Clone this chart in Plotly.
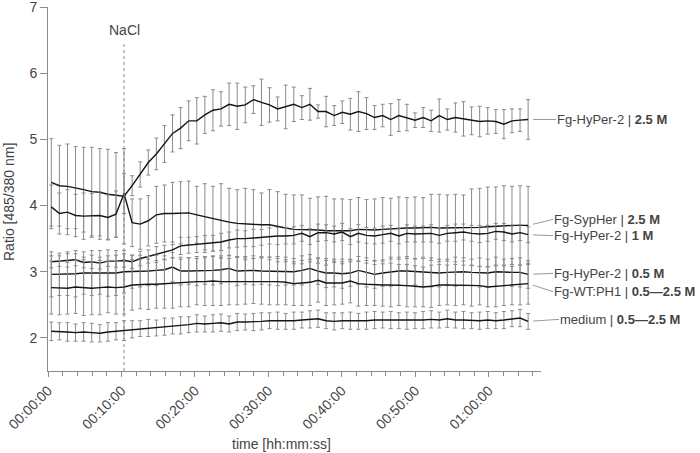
import plotly.graph_objects as go

# sampling grid (minutes), one point per ~66 s
t_min = [round(0.45 + 1.1 * i, 2) for i in range(60)]
nacl_min = 10.35

tick_vals = [0, 10, 20, 30, 40, 50, 60]
tick_text = ["00:00:00", "00:10:00", "00:20:00", "00:30:00", "00:40:00", "00:50:00", "01:00:00"]

# Fg-HyPer-2 | 2.5 M
hyper25 = [4.35, 4.30, 4.29, 4.27, 4.24, 4.21, 4.20, 4.17, 4.16, 4.14,
           4.30, 4.47, 4.65, 4.78, 4.93, 5.09, 5.17, 5.28, 5.28, 5.37,
           5.44, 5.46, 5.53, 5.50, 5.52, 5.60, 5.56, 5.52, 5.46, 5.49,
           5.53, 5.48, 5.53, 5.42, 5.42, 5.36, 5.41, 5.38, 5.42, 5.39,
           5.33, 5.36, 5.30, 5.36, 5.33, 5.29, 5.33, 5.28, 5.36, 5.30,
           5.33, 5.31, 5.28, 5.27, 5.28, 5.27, 5.23, 5.28, 5.29, 5.30]
hyper25_err = [0.66, 0.61, 0.64, 0.62, 0.64, 0.67, 0.66, 0.68, 0.64, 0.72,
               0.15, 0.19, 0.19, 0.24, 0.28, 0.28, 0.31, 0.30, 0.35, 0.28,
               0.31, 0.26, 0.32, 0.35, 0.27, 0.21, 0.35, 0.26, 0.18, 0.33,
               0.26, 0.18, 0.24, 0.10, 0.23, 0.15, 0.17, 0.24, 0.30, 0.24,
               0.18, 0.17, 0.24, 0.24, 0.20, 0.11, 0.15, 0.16, 0.25, 0.16,
               0.22, 0.26, 0.21, 0.23, 0.20, 0.18, 0.22, 0.18, 0.17, 0.30]

# Fg-SypHer | 2.5 M
sypher = [3.98, 3.88, 3.90, 3.85, 3.84, 3.85, 3.85, 3.82, 3.87, 4.18,
          3.74, 3.72, 3.77, 3.86, 3.88, 3.88, 3.89, 3.89, 3.86, 3.83,
          3.80, 3.77, 3.75, 3.73, 3.72, 3.72, 3.71, 3.71, 3.68, 3.66,
          3.64, 3.64, 3.63, 3.63, 3.62, 3.62, 3.61, 3.62, 3.64, 3.63,
          3.63, 3.64, 3.65, 3.66, 3.66, 3.66, 3.67, 3.67, 3.66, 3.66,
          3.66, 3.66, 3.67, 3.67, 3.68, 3.69, 3.70, 3.70, 3.70, 3.70]
sypher_err = [0.33, 0.31, 0.34, 0.32, 0.35, 0.33, 0.36, 0.34, 0.35, 0.30,
              0.36, 0.38, 0.38, 0.43, 0.43, 0.47, 0.47, 0.48, 0.43, 0.50,
              0.49, 0.56, 0.51, 0.51, 0.54, 0.52, 0.48, 0.53, 0.53, 0.51,
              0.52, 0.52, 0.48, 0.50, 0.52, 0.48, 0.49, 0.47, 0.48, 0.46,
              0.47, 0.48, 0.46, 0.47, 0.46, 0.47, 0.45, 0.50, 0.51, 0.50,
              0.51, 0.50, 0.58, 0.59, 0.60, 0.59, 0.60, 0.59, 0.60, 0.59]

# Fg-HyPer-2 | 1 M
hyper1 = [3.15, 3.16, 3.17, 3.18, 3.14, 3.15, 3.13, 3.16, 3.16, 3.17,
          3.15, 3.20, 3.23, 3.26, 3.29, 3.33, 3.39, 3.40, 3.41, 3.42,
          3.43, 3.45, 3.48, 3.50, 3.50, 3.51, 3.52, 3.54, 3.54, 3.54,
          3.55, 3.58, 3.53, 3.59, 3.59, 3.57, 3.60, 3.53, 3.58, 3.55,
          3.54, 3.56, 3.58, 3.54, 3.58, 3.57, 3.57, 3.58, 3.55, 3.58,
          3.59, 3.60, 3.58, 3.57, 3.58, 3.61, 3.60, 3.57, 3.59, 3.56]
hyper1_err = [0.09, 0.08, 0.10, 0.09, 0.08, 0.10, 0.09, 0.08, 0.09, 0.10,
              0.10, 0.11, 0.10, 0.12, 0.11, 0.12, 0.13, 0.12, 0.12, 0.13,
              0.12, 0.13, 0.12, 0.13, 0.12, 0.13, 0.12, 0.12, 0.13, 0.12,
              0.13, 0.12, 0.12, 0.13, 0.12, 0.12, 0.13, 0.12, 0.13, 0.12,
              0.12, 0.13, 0.12, 0.12, 0.13, 0.12, 0.12, 0.13, 0.12, 0.12,
              0.13, 0.12, 0.12, 0.13, 0.12, 0.12, 0.13, 0.12, 0.12, 0.12]

# Fg-HyPer-2 | 0.5 M
hyper05 = [2.96, 2.96, 2.97, 2.97, 2.98, 2.98, 2.99, 2.98, 2.98, 3.00,
           3.00, 3.01, 3.01, 3.02, 3.03, 3.07, 3.01, 3.01, 3.01, 3.02,
           3.02, 3.03, 3.05, 3.01, 3.02, 3.02, 3.01, 3.01, 3.01, 3.01,
           3.00, 3.02, 3.05, 3.01, 2.98, 2.98, 2.97, 2.98, 3.02, 2.99,
           2.96, 2.98, 3.00, 3.01, 3.01, 3.00, 2.99, 2.99, 2.98, 2.99,
           3.00, 3.00, 2.99, 2.99, 2.98, 3.00, 2.99, 2.99, 2.99, 2.96]
hyper05_err = [0.34, 0.32, 0.33, 0.35, 0.32, 0.34, 0.33, 0.35, 0.34, 0.32,
               0.25, 0.24, 0.22, 0.23, 0.21, 0.22, 0.21, 0.20, 0.22, 0.21,
               0.22, 0.21, 0.20, 0.22, 0.21, 0.22, 0.20, 0.21, 0.22, 0.21,
               0.20, 0.22, 0.21, 0.20, 0.22, 0.21, 0.22, 0.20, 0.21, 0.22,
               0.21, 0.20, 0.22, 0.21, 0.22, 0.20, 0.21, 0.22, 0.21, 0.20,
               0.22, 0.21, 0.20, 0.22, 0.21, 0.22, 0.20, 0.21, 0.22, 0.21]

# Fg-WT:PH1 | 0.5-2.5 M
wt = [2.76, 2.76, 2.75, 2.77, 2.76, 2.75, 2.76, 2.77, 2.76, 2.77,
      2.80, 2.81, 2.81, 2.81, 2.82, 2.83, 2.83, 2.84, 2.85, 2.85,
      2.86, 2.85, 2.85, 2.86, 2.86, 2.86, 2.86, 2.86, 2.85, 2.84,
      2.82, 2.83, 2.84, 2.87, 2.83, 2.83, 2.83, 2.86, 2.82, 2.81,
      2.80, 2.80, 2.80, 2.80, 2.79, 2.78, 2.77, 2.78, 2.80, 2.80,
      2.80, 2.80, 2.79, 2.79, 2.77, 2.78, 2.79, 2.79, 2.80, 2.82]
wt_err = [0.40, 0.41, 0.39, 0.40, 0.42, 0.40, 0.41, 0.39, 0.40, 0.41,
          0.38, 0.37, 0.38, 0.36, 0.37, 0.38, 0.36, 0.37, 0.35, 0.36,
          0.37, 0.36, 0.35, 0.36, 0.35, 0.34, 0.35, 0.36, 0.35, 0.34,
          0.33, 0.34, 0.35, 0.33, 0.34, 0.33, 0.32, 0.33, 0.34, 0.32,
          0.31, 0.32, 0.33, 0.31, 0.32, 0.31, 0.30, 0.32, 0.31, 0.30,
          0.31, 0.30, 0.31, 0.29, 0.30, 0.31, 0.30, 0.29, 0.30, 0.31]

# medium | 0.5-2.5 M
medium = [2.10, 2.10, 2.09, 2.08, 2.09, 2.08, 2.07, 2.09, 2.10, 2.11,
          2.13, 2.14, 2.15, 2.15, 2.17, 2.18, 2.19, 2.20, 2.22, 2.21,
          2.22, 2.23, 2.21, 2.24, 2.24, 2.24, 2.25, 2.26, 2.26, 2.25,
          2.26, 2.27, 2.28, 2.29, 2.26, 2.25, 2.26, 2.26, 2.25, 2.26,
          2.27, 2.27, 2.27, 2.26, 2.26, 2.26, 2.27, 2.28, 2.27, 2.29,
          2.27, 2.27, 2.26, 2.26, 2.27, 2.26, 2.27, 2.29, 2.30, 2.25]
medium_err = [0.14, 0.13, 0.14, 0.13, 0.14, 0.14, 0.13, 0.14, 0.13, 0.15,
              0.13, 0.12, 0.13, 0.12, 0.13, 0.12, 0.13, 0.12, 0.13, 0.12,
              0.13, 0.13, 0.12, 0.13, 0.12, 0.13, 0.13, 0.12, 0.13, 0.12,
              0.13, 0.12, 0.13, 0.13, 0.12, 0.13, 0.12, 0.13, 0.12, 0.13,
              0.13, 0.12, 0.13, 0.12, 0.13, 0.12, 0.13, 0.13, 0.12, 0.13,
              0.12, 0.13, 0.12, 0.13, 0.13, 0.12, 0.13, 0.12, 0.13, 0.12]

series = [
    ("Fg-HyPer-2 | <b>2.5 M</b>", hyper25, hyper25_err, 28, 0),
    ("Fg-SypHer | <b>2.5 M</b>", sypher, sypher_err, 25, -6),
    ("Fg-HyPer-2 | <b>1 M</b>", hyper1, hyper1_err, 25, 1),
    ("Fg-HyPer-2 | <b>0.5 M</b>", hyper05, hyper05_err, 25, -1),
    ("Fg-WT:PH1 | <b>0.5\u20142.5 M</b>", wt, wt_err, 25, 8),
    ("medium | <b>0.5\u20142.5 M</b>", medium, medium_err, 31, -2),
]

FONT = "Liberation Sans, Arial, sans-serif"
TXT = "#444444"
AX = "#8c8c8c"

fig = go.Figure()

for name, y, err, ax, ay in series:
    fig.add_trace(go.Scatter(
        x=t_min, y=y, mode="lines", name=name,
        line=dict(color="#151515", width=1.4),
        error_y=dict(type="data", array=err, visible=True,
                     color="#8a8a8a", thickness=1, width=2),
        showlegend=False,
    ))
    fig.add_annotation(
        x=t_min[-1], y=y[-1], xref="x", yref="y",
        text=name, showarrow=True, arrowhead=0, arrowwidth=1,
        arrowcolor="#9a9a9a", ax=ax, ay=ay, standoff=5,
        xanchor="left", yanchor="middle", borderpad=0,
        font=dict(family=FONT, size=13, color=TXT),
    )

# NaCl marker
fig.add_shape(type="line", x0=nacl_min, x1=nacl_min, y0=1.5, y1=6.44,
              xref="x", yref="y",
              line=dict(color="#888888", width=1, dash="dot"))
fig.add_annotation(x=nacl_min, y=6.44, xref="x", yref="y", text="NaCl",
                   showarrow=False, yanchor="bottom", yshift=4,
                   font=dict(family=FONT, size=14, color=TXT))

# axis titles
fig.add_annotation(x=0.474, y=-0.2, xref="paper", yref="paper",
                   text="time [hh:mm:ss]", showarrow=False,
                   yanchor="middle", font=dict(family=FONT, size=14, color=TXT))
fig.add_annotation(x=-0.078, y=0.463, xref="paper", yref="paper",
                   text="Ratio [485/380 nm]", showarrow=False, textangle=-90,
                   xanchor="center", font=dict(family=FONT, size=14, color=TXT))

fig.update_xaxes(range=[0, 67.1], tickvals=tick_vals, ticktext=tick_text,
                 tickangle=-45, ticks="outside", ticklen=5, tickcolor=AX,
                 minor=dict(dtick=2, ticks="outside", ticklen=4, tickcolor=AX),
                 showline=True, linecolor=AX, linewidth=1,
                 showgrid=False, zeroline=False, automargin=False,
                 tickfont=dict(family=FONT, size=14, color=TXT))
fig.update_yaxes(range=[1.5, 7], tickvals=[2, 3, 4, 5, 6, 7], ticks="outside",
                 ticklen=7, tickcolor=AX, showline=True, linecolor=AX, linewidth=1,
                 showgrid=False, zeroline=False, automargin=False,
                 ticklabeloverflow="allow",
                 tickfont=dict(family=FONT, size=14, color=TXT))

fig.update_layout(
    width=700, height=453,
    margin=dict(l=48, r=159, t=7, b=82),
    paper_bgcolor="white", plot_bgcolor="white",
    font=dict(family=FONT, color=TXT),
)

# page body has a default 8px margin; drop it so the figure fills the window
fig.write_html("out.html", config={"displayModeBar": False},
               post_script="document.body.style.margin='0';")
